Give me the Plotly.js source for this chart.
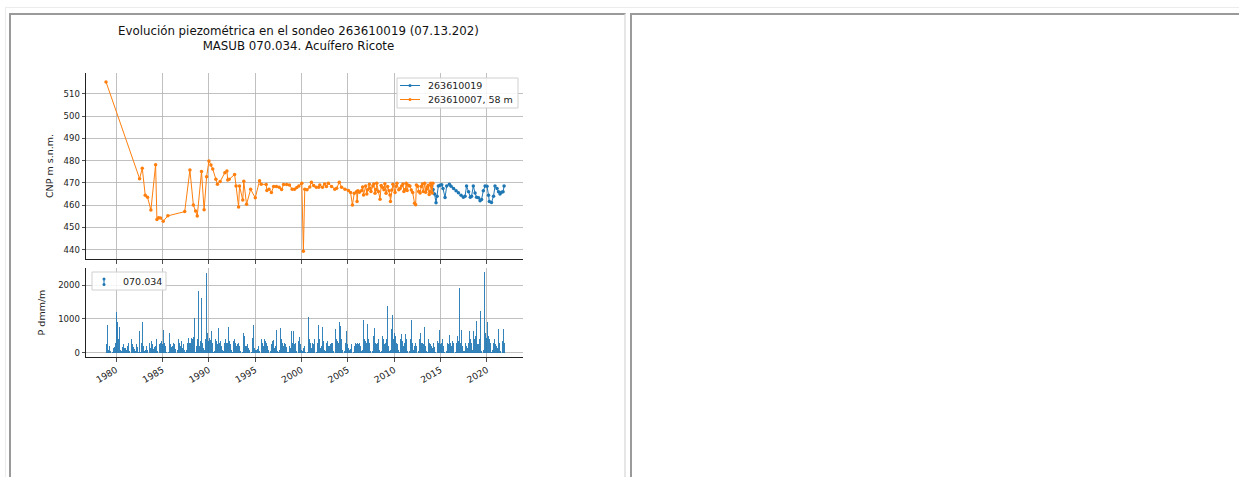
<!DOCTYPE html>
<html><head><meta charset="utf-8">
<script src="https://cdn.plot.ly/plotly-3.0.1.min.js"></script>
<style>
html,body{margin:0;padding:0;background:#fff;width:1239px;height:477px;overflow:hidden;}
#frame{position:absolute;left:5px;top:7px;width:1260px;height:500px;border-top:1px solid #ececec;border-left:1px solid #ececec;}
.panel{position:absolute;top:13px;height:500px;box-sizing:border-box;border-top:2px solid #9a9a9a;border-left:2px solid #9a9a9a;border-right:2px solid #e6e6e6;}
#p1{left:9px;width:617px;}
#p2{left:630px;width:640px;}
#chart{position:absolute;left:0;top:0;width:1239px;height:477px;}
</style></head>
<body>
<div id="frame"></div><div class="panel" id="p1"></div><div class="panel" id="p2"></div>
<div id="chart"></div>
<script>
// ---- data ----
const titleLines = ["Evolución piezométrica en el sondeo 263610019 (07.13.202)", "MASUB 070.034. Acuífero Ricote"];
const seriesBlueName = "263610019";
const seriesOrangeName = "263610007, 58 m";
const precipName = "070.034";
const yTitleTop = "CNP m s.n.m.";
const yTitleBottom = "P dmm/m";
const tickYears = [1980, 1985, 1990, 1995, 2000, 2005, 2010, 2015, 2020];
const tickLabels = ["1980", "1985", "1990", "1995", "2000", "2005", "2010", "2015", "2020"];
const levelTicks = [440, 450, 460, 470, 480, 490, 500, 510];
const precipTicks = [0, 1000, 2000];

// 263610007 (orange): decimal year, level (m s.n.m.)
const orangeYears = [1978.92,1982.54,1982.83,1983.15,1983.40,1983.76,1984.27,1984.41,1984.59,1984.80,1985.09,1985.59,
 1987.41,1987.97,1988.34,1988.58,1988.76,1989.22,1989.50,1989.77,1990.02,1990.24,1990.43,1990.77,1990.94,1991.23,
 1991.74,1991.96,1992.05,1992.20,1992.79,1992.95,1993.22,1993.32,1993.67,1993.78,1994.08,1994.52,1995.02,1995.48,
 1995.66,1996.20,1996.27,1996.50,1996.76,1997.00,1997.30,1997.60,1997.86,1998.07,1998.40,1998.70,1999.00,1999.25,
 1999.50,1999.72,2000.04,2000.21,2000.36,2000.60,2000.90,2001.07,2001.32,2001.60,2001.86,2001.98,2002.27,2002.50,
 2002.70,2002.90,2003.25,2003.60,2003.80,2004.08,2004.33,2004.70,2005.06,2005.30,2005.50,2005.70,2005.96,2006.00,
 2006.10,2006.25,2006.50,2006.60,2006.70,2006.93,2007.05,2007.15,2007.33,2007.40,2007.50,2007.70,2007.80,2007.94,
 2008.05,2008.12,2008.30,2008.48,2008.60,2008.73,2008.90,2009.00,2009.13,2009.30,2009.45,2009.55,2009.60,2009.75,
 2009.86,2010.10,2010.20,2010.30,2010.50,2010.65,2010.80,2010.95,2011.05,2011.20,2011.30,2011.40,2011.55,2011.70,
 2011.85,2012.00,2012.20,2012.32,2012.40,2012.55,2012.65,2012.80,2012.93,2013.05,2013.14,2013.30,2013.40,2013.50,
 2013.60,2013.68,2013.78,2013.86,2013.95,2014.00,2014.10,2014.18];
const orangeLevels = [515.4,471.9,476.6,464.4,463.5,457.8,478.2,453.5,454.3,454.2,452.8,455.2,
 457.1,475.8,460.1,457.4,455.1,475.1,457.9,472.8,479.9,478.1,476.2,471.7,469.4,470.6,
 474.6,475.4,471.3,471.6,473.8,468.6,459.2,468.6,462.3,470.7,460.4,467.1,463.3,471.0,
 469.4,469.3,466.6,467.2,465.7,468.4,468.4,468.0,467.0,469.3,469.3,469.1,467.2,467.2,
 467.9,468.6,469.8,439.3,467.2,466.9,468.2,470.3,468.8,468.0,468.0,469.1,468.0,469.5,
 468.4,469.8,468.4,467.2,467.6,470.3,468.0,467.2,466.6,465.7,460.1,465.4,466.1,461.6,
 466.5,465.8,466.6,468.2,464.6,468.6,465.0,466.9,469.4,467.6,466.1,468.6,469.5,465.4,
 467.0,469.8,466.1,462.7,468.8,468.0,466.9,469.6,465.4,468.4,466.5,464.6,461.6,466.8,
 469.4,465.7,468.5,469.8,466.9,467.5,468.6,469.5,466.1,467.0,469.8,466.6,469.0,468.6,
 466.8,465.7,460.9,460.2,469.1,468.5,466.1,465.5,468.4,469.5,466.1,469.8,465.8,467.2,
 468.2,469.0,464.8,466.1,469.9,468.6,465.5,469.8];

// 263610019 (blue)
const blueYears = [2014.06,2014.20,2014.36,2014.52,2014.63,2014.77,2014.95,2015.13,2015.27,2015.49,2015.67,2015.96,
 2016.14,2016.41,2016.68,2016.93,2017.22,2017.47,2017.65,2017.81,2018.03,2018.22,2018.35,2018.54,2018.73,2018.89,
 2019.10,2019.27,2019.43,2019.62,2019.81,2020.02,2020.18,2020.27,2020.50,2020.72,2020.88,2021.10,2021.26,2021.42,
 2021.59,2021.75,2021.86];
const blueLevels = [468.6,467.0,465.0,461.1,464.0,468.6,469.0,469.2,467.5,463.4,468.6,469.4,
 468.5,467.5,466.5,465.6,464.5,463.5,464.0,468.6,466.0,463.5,464.0,468.6,465.5,463.5,
 463.3,462.0,462.5,466.5,468.6,468.5,464.5,461.6,461.2,464.0,468.6,467.5,466.0,465.0,
 465.8,466.0,468.6];

// monthly precipitation, starting December 1978
const precipStartYear = 1978 + 11/12;
const precipMonthly = [
 260,
 810,120,90,200,60,20,5,30,150,250,180,300,
 1220,900,300,420,750,100,10,60,180,250,160,200,
 150,80,200,900,300,60,5,20,400,250,180,120,
 100,60,250,180,120,40,650,30,300,450,920,200,
 60,150,100,200,80,20,5,280,150,350,600,250,
 120,180,300,220,400,60,10,40,250,300,350,200,
 250,680,300,150,200,40,5,30,120,600,250,180,
 150,200,300,250,120,60,10,80,400,630,300,200,
 350,200,150,250,100,40,20,100,300,450,1910,300,
 300,450,400,350,480,1020,20,60,200,420,1810,400,
 200,350,1620,300,1620,150,80,400,2380,2350,600,350,
 450,300,380,650,300,100,20,60,400,500,350,250,
 730,300,400,350,200,80,10,50,300,420,300,200,
 300,750,350,1080,250,100,20,80,350,400,300,200,
 950,250,300,200,400,60,10,40,600,350,500,200,
 200,300,250,150,100,40,5,30,450,810,250,150,
 100,80,150,120,200,60,10,30,400,300,200,150,
 400,350,300,470,200,80,10,60,300,250,350,380,
 250,150,200,680,300,60,20,100,730,500,400,300,
 200,150,300,250,180,40,5,30,200,150,120,660,
 300,660,200,250,300,50,10,40,350,480,250,150,
 80,60,150,200,180,40,5,30,250,1060,400,300,
 200,150,300,250,400,60,10,40,300,350,810,400,
 150,200,300,760,350,80,20,60,300,350,250,200,
 200,250,300,250,300,60,10,80,720,400,350,300,
 300,900,800,400,300,80,10,50,200,300,650,250,
 150,200,100,120,250,40,5,30,200,300,550,250,
 300,250,660,300,200,50,10,80,980,400,350,250,
 300,840,400,500,300,60,10,60,400,500,740,300,
 200,250,300,400,830,100,20,60,500,600,400,250,
 300,250,400,1370,200,60,10,80,700,1110,500,400,
 600,500,400,300,250,80,20,100,400,560,350,300,
 200,300,550,400,300,60,10,50,250,400,980,300,
 150,100,200,300,200,40,5,50,400,900,600,300,
 300,250,400,770,200,60,10,40,420,300,350,250,
 200,150,300,250,180,40,5,60,350,300,680,250,
 250,300,400,200,150,40,10,60,690,300,250,540,
 300,250,200,350,300,60,10,40,300,400,500,350,
 1900,300,400,680,200,50,10,60,300,200,150,250,
 300,640,400,350,300,80,640,60,400,500,930,250,
 300,250,400,1240,200,60,10,100,2370,500,600,450,
 900,680,500,400,300,60,20,100,300,400,350,250,
 200,150,400,720,300,60,10,80,350,720,300
];

// ---- chart ----
const W = 1239, H = 477;
const px = v => v / W, py = v => 1 - v / H;
const blue = '#1f77b4', orange = '#ff7f0e';
const precipX = precipMonthly.map((v, i) => precipStartYear + (i + 0.5) / 12);

const traces = [
  {type:'scatter', mode:'lines+markers', name:seriesBlueName, x:blueYears, y:blueLevels, xaxis:'x', yaxis:'y',
   line:{color:blue, width:1}, marker:{color:blue, size:3.5}, showlegend:false},
  {type:'scatter', mode:'lines+markers', name:seriesOrangeName, x:orangeYears, y:orangeLevels, xaxis:'x', yaxis:'y',
   line:{color:orange, width:1}, marker:{color:orange, size:3.5}, showlegend:false},
  {type:'bar', name:precipName, x:precipX, y:precipMonthly, width:1/12, xaxis:'x2', yaxis:'y2',
   marker:{color:blue, line:{width:0}}, opacity:0.9, showlegend:false}
];

const axBase = {showgrid:true, gridcolor:'#b0b0b0', gridwidth:0.8, zeroline:false, showline:true,
  linecolor:'#222', linewidth:1, ticks:'outside', ticklen:3.5, tickwidth:0.8, tickcolor:'#222',
  tickfont:{family:'DejaVu Sans', size:8.5, color:'#222'}};
const xDom = [px(86), px(523)];
const xRange = [1976.76, 2023.9];
const lf = {family:'DejaVu Sans', size:9.5, color:'#222'};

// legend drawn as shapes + text (matplotlib-style compact boxes)
const legendShapes = [
  {type:'rect', xref:'paper', yref:'paper', x0:px(397), x1:px(518), y0:py(78), y1:py(108),
   fillcolor:'rgba(255,255,255,0.85)', line:{color:'#d0d0d0', width:1}},
  {type:'line', xref:'paper', yref:'paper', x0:px(400), x1:px(420), y0:py(85.5), y1:py(85.5), line:{color:blue, width:1}},
  {type:'circle', xref:'paper', yref:'paper', x0:px(408.5), x1:px(411.5), y0:py(84), y1:py(87), fillcolor:blue, line:{width:0}},
  {type:'line', xref:'paper', yref:'paper', x0:px(400), x1:px(420), y0:py(99.5), y1:py(99.5), line:{color:orange, width:1}},
  {type:'circle', xref:'paper', yref:'paper', x0:px(408.5), x1:px(411.5), y0:py(98), y1:py(101), fillcolor:orange, line:{width:0}},
  {type:'rect', xref:'paper', yref:'paper', x0:px(92), x1:px(166), y0:py(272), y1:py(290),
   fillcolor:'rgba(255,255,255,0.85)', line:{color:'#d0d0d0', width:1}},
  {type:'line', xref:'paper', yref:'paper', x0:px(104), x1:px(104), y0:py(279), y1:py(284.5), line:{color:blue, width:1}},
  {type:'circle', xref:'paper', yref:'paper', x0:px(102.5), x1:px(105.5), y0:py(277.5), y1:py(280.5), fillcolor:blue, line:{width:0}},
  {type:'circle', xref:'paper', yref:'paper', x0:px(102.5), x1:px(105.5), y0:py(283), y1:py(286), fillcolor:blue, line:{width:0}}
];

const layout = {
  width:W, height:H, margin:{l:0, r:0, t:0, b:0},
  paper_bgcolor:'rgba(0,0,0,0)', plot_bgcolor:'rgba(0,0,0,0)',
  font:{family:'DejaVu Sans', color:'#222', size:9},
  showlegend:false, bargap:0,
  xaxis:Object.assign({}, axBase, {domain:xDom, anchor:'y', range:xRange, tickmode:'array', tickvals:tickYears,
     ticktext:tickLabels, showticklabels:false}),
  yaxis:Object.assign({}, axBase, {domain:[py(259), py(73)], anchor:'x', range:[435.8, 519.4], tickmode:'array',
     tickvals:levelTicks, title:{text:yTitleTop, font:lf, standoff:8}}),
  xaxis2:Object.assign({}, axBase, {domain:xDom, anchor:'y2', range:xRange, matches:'x', tickmode:'array',
     tickvals:tickYears, ticktext:tickLabels, tickangle:-30, tickfont:{family:'DejaVu Sans', size:9, color:'#222'}}),
  yaxis2:Object.assign({}, axBase, {domain:[py(357), py(268)], anchor:'x2', range:[-118, 2500], tickmode:'array',
     tickvals:precipTicks, title:{text:yTitleBottom, font:lf, standoff:10}}),
  shapes:legendShapes,
  annotations:[
    {xref:'paper', yref:'paper', x:px(298), y:py(39), xanchor:'center', yanchor:'middle', showarrow:false,
     text:titleLines.join('<br>'), font:{family:'DejaVu Sans', size:11.8, color:'#111'}},
    {xref:'paper', yref:'paper', x:px(426), y:py(85.5), xanchor:'left', yanchor:'middle', showarrow:false,
     text:seriesBlueName, font:lf},
    {xref:'paper', yref:'paper', x:px(426), y:py(99.5), xanchor:'left', yanchor:'middle', showarrow:false,
     text:seriesOrangeName, font:lf},
    {xref:'paper', yref:'paper', x:px(121), y:py(281), xanchor:'left', yanchor:'middle', showarrow:false,
     text:precipName, font:lf}
  ]
};

Plotly.newPlot('chart', traces, layout, {staticPlot:true});
</script>
</body></html>
